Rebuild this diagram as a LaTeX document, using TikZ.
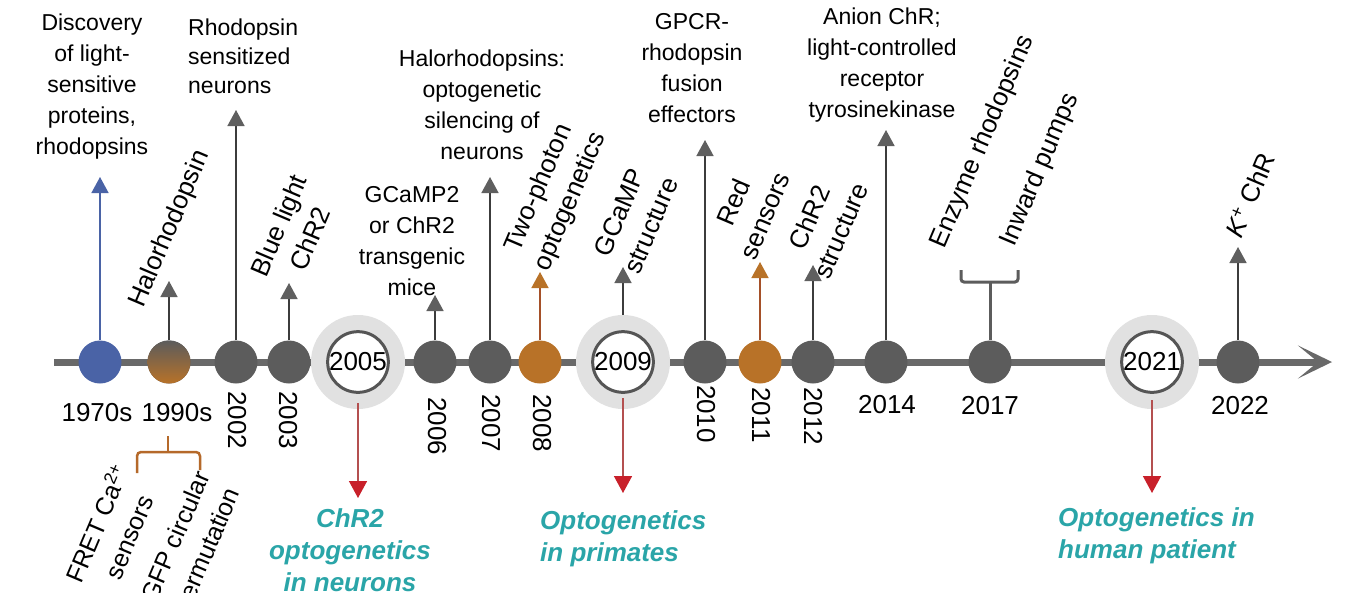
\documentclass[tikz,border=0pt]{standalone}
\usepackage{fontspec}
\setmainfont{Liberation Sans}
\usetikzlibrary{arrows.meta}
\definecolor{dotgray}{RGB}{92,92,92}
\definecolor{linegray}{RGB}{105,105,105}
\definecolor{stemgray}{RGB}{60,60,60}
\definecolor{headgray}{RGB}{95,95,95}
\definecolor{dotblue}{RGB}{74,99,166}
\definecolor{dotorange}{RGB}{184,114,40}
\definecolor{stemorange}{RGB}{165,80,40}
\definecolor{ringgray}{RGB}{225,225,225}
\definecolor{ringline}{RGB}{85,85,85}
\definecolor{tealtext}{RGB}{42,165,168}
\definecolor{redhead}{RGB}{200,32,42}
\definecolor{redstem}{RGB}{180,80,80}
\definecolor{bracebrown}{RGB}{181,105,42}
\begin{document}
\begin{tikzpicture}[x=1pt,y=-1pt,
 dot/.style={circle,minimum size=43pt,inner sep=0pt,fill=dotgray},
 ring/.style={circle,minimum size=94pt,inner sep=0pt,fill=ringgray},
 ringin/.style={circle,minimum size=60pt,inner sep=0pt,fill=white,draw=ringline,line width=3pt,font=\fontsize{26}{30}\selectfont},
 lab/.style={align=center,inner sep=0pt,font=\fontsize{23}{31}\selectfont},
 rlab/.style={align=center,inner sep=0pt,rotate=67,font=\fontsize{26}{34}\selectfont},
 yr/.style={inner sep=0pt,font=\fontsize{26}{30}\selectfont},
 vyr/.style={yr,rotate=-90},
 event/.style={inner sep=0pt,text=tealtext,font=\fontsize{26}{32}\selectfont\bfseries\itshape},
 timeline/.style={draw=linegray,line width=7pt,-{Stealth[length=34pt,width=33pt,inset=20pt]}},
 upgray/.style={draw=stemgray,line width=1.5pt,-{Triangle[width=17pt,length=16pt,color=headgray]}},
 upblue/.style={draw=dotblue,line width=1.5pt,-{Triangle[width=17pt,length=16pt,color=dotblue]}},
 uporange/.style={draw=stemorange,line width=1.5pt,-{Triangle[width=17pt,length=16pt,color=dotorange]}},
 downred/.style={draw=redstem,line width=1.5pt,-{Triangle[width=18pt,length=17pt,color=redhead]}},
 brkgray/.style={draw=dotgray,line width=3pt},
 brkbrown/.style={draw=bracebrown,line width=2.5pt}
]
\useasboundingbox (0,0) rectangle (1367,592);
\fill[white] (0,0) rectangle (1367,592);

% timeline
\coordinate (tlstart) at (54,362);
\coordinate (tlend) at (1332,362);
\draw[timeline] (tlstart) -- (tlend);

% dots
\node[dot,fill=dotblue] (d1970) at (100,362) {};
\node[dot,top color=dotgray,middle color=dotgray!60!dotorange,bottom color=dotorange] (d1990) at (169,362) {};
\node[dot] (d2002) at (236,362) {};
\node[dot] (d2003) at (289,362) {};
\node[ring] (r2005) at (358,362) {};
\node[ringin] (c2005) at (358,362) {2005};
\node[dot] (d2006) at (435,362) {};
\node[dot] (d2007) at (490,362) {};
\node[dot,fill=dotorange] (d2008) at (540,362) {};
\node[ring] (r2009) at (623,362) {};
\node[ringin] (c2009) at (623,362) {2009};
\node[dot] (d2010) at (705,362) {};
\node[dot,fill=dotorange] (d2011) at (760,362) {};
\node[dot] (d2012) at (813,362) {};
\node[dot] (d2014) at (886,362) {};
\node[dot] (d2017) at (990,362) {};
\node[ring] (r2021) at (1152,362) {};
\node[ringin] (c2021) at (1152,362) {2021};
\node[dot] (d2022) at (1238,362) {};

% year labels
\node[yr] (l1970) at (97,413) {1970s};
\node[yr] (l1990) at (177,413) {1990s};
\node[vyr] (l2002) at (237,420) {2002};
\node[vyr] (l2003) at (288,420) {2003};
\node[vyr] (l2006) at (437,426) {2006};
\node[vyr] (l2007) at (491,423) {2007};
\node[vyr] (l2008) at (542,423) {2008};
\node[vyr] (l2010) at (706,414) {2010};
\node[vyr] (l2011) at (761,415) {2011};
\node[vyr] (l2012) at (813,416) {2012};
\node[yr] (l2014) at (887,405) {2014};
\node[yr] (l2017) at (990,406) {2017};
\node[yr] (l2022) at (1240,406) {2022};

% arrow tips
\coordinate (t1970) at (100,177);
\coordinate (t1990) at (169,281);
\coordinate (t2002) at (236,110);
\coordinate (t2003) at (289,283);
\coordinate (t2006) at (435,295);
\coordinate (t2007) at (490,177);
\coordinate (t2008) at (540,272);
\coordinate (t2009) at (623,267);
\coordinate (t2010) at (705,140);
\coordinate (t2011) at (760,262);
\coordinate (t2012) at (813,265);
\coordinate (t2014) at (886,130);
\coordinate (t2022) at (1238,247);
\coordinate (b2017) at (990,282);

\draw[upblue] (d1970.north) -- (t1970);
\draw[upgray] (d1990.north) -- (t1990);
\draw[upgray] (d2002.north) -- (t2002);
\draw[upgray] (d2003.north) -- (t2003);
\draw[upgray] (d2006.north) -- (t2006);
\draw[upgray] (d2007.north) -- (t2007);
\draw[uporange] (d2008.north) -- (t2008);
\draw[upgray] (r2009.north) -- (t2009);
\draw[upgray] (d2010.north) -- (t2010);
\draw[uporange] (d2011.north) -- (t2011);
\draw[upgray] (d2012.north) -- (t2012);
\draw[upgray] (d2014.north) -- (t2014);
\draw[upgray] (d2022.north) -- (t2022);

% 2017 bracket
\draw[brkgray] (d2017.north) -- (b2017);
\draw[brkgray,rounded corners=3pt] (961,270) |- (1018,282) -- (1018,270);

% 1990s brace below
\coordinate (b1990) at (168,436);
\draw[brkbrown] (b1990) -- (168,452);
\draw[brkbrown,rounded corners=4pt] (137,473) |- (200,452) -- (200,470);

% down arrows
\coordinate (t2005d) at (358,498);
\coordinate (t2009d) at (623,493);
\coordinate (t2021d) at (1152,493);
\draw[downred] ([yshift=6pt]r2005.south) -- (t2005d);
\draw[downred] ([yshift=11pt]r2009.south) -- (t2009d);
\draw[downred] ([yshift=9pt]r2021.south) -- (t2021d);

% top horizontal labels
\node[lab] (n1970) at (92,87) {Discovery\\of light-\\sensitive\\proteins,\\rhodopsins};
\node[lab,align=left,anchor=west,font=\fontsize{23}{29}\selectfont] (n2002) at (188,56) {Rhodopsin\\sensitized\\neurons};
\node[lab] (n2007) at (482,105) {Halorhodopsins:\\optogenetic\\silencing of\\neurons};
\node[lab] (n2006) at (412,241) {GCaMP2\\or ChR2\\transgenic\\mice};
\node[lab] (n2010) at (692,68) {GPCR-\\rhodopsin\\fusion\\effectors};
\node[lab] (n2014) at (882,65) {Anion ChR;\\light-controlled\\receptor\\tyrosinekinase};

% rotated labels
\node[rlab] (n1990) at (170,229) {Halorhodopsin};
\node[rlab] (n2003) at (294,232) {Blue light\\ChR2};
\node[rlab] (n2008) at (555,195) {Two-photon\\optogenetics};
\node[rlab] (n2009) at (635,219) {GCaMP\\structure};
\node[rlab] (n2011) at (749,209) {Red\\sensors};
\node[rlab] (n2012) at (825,224) {ChR2\\structure};
\node[rlab] (n2017a) at (983,142) {Enzyme rhodopsins};
\node[rlab] (n2017b) at (1040,170) {Inward pumps};
\node[rlab] (n2022) at (1250,195) {\textit{K}\textsuperscript{+} ChR};
\node[rlab,font=\fontsize{25}{34}\selectfont] (n1990a) at (112,530) {FRET Ca\textsuperscript{2+}\\sensors};
\node[rlab,font=\fontsize{25}{34}\selectfont] (n1990b) at (193,544) {GFP circular\\permutation};

% events
\node[event,align=center] (e2005) at (350,550) {ChR2\\optogenetics\\in neurons};
\node[event,align=left,anchor=west] (e2009) at (540,539) {Optogenetics\\in primates};
\node[event,align=left,anchor=west] (e2021) at (1058,536) {Optogenetics in\\human patient};
\end{tikzpicture}
\end{document}
